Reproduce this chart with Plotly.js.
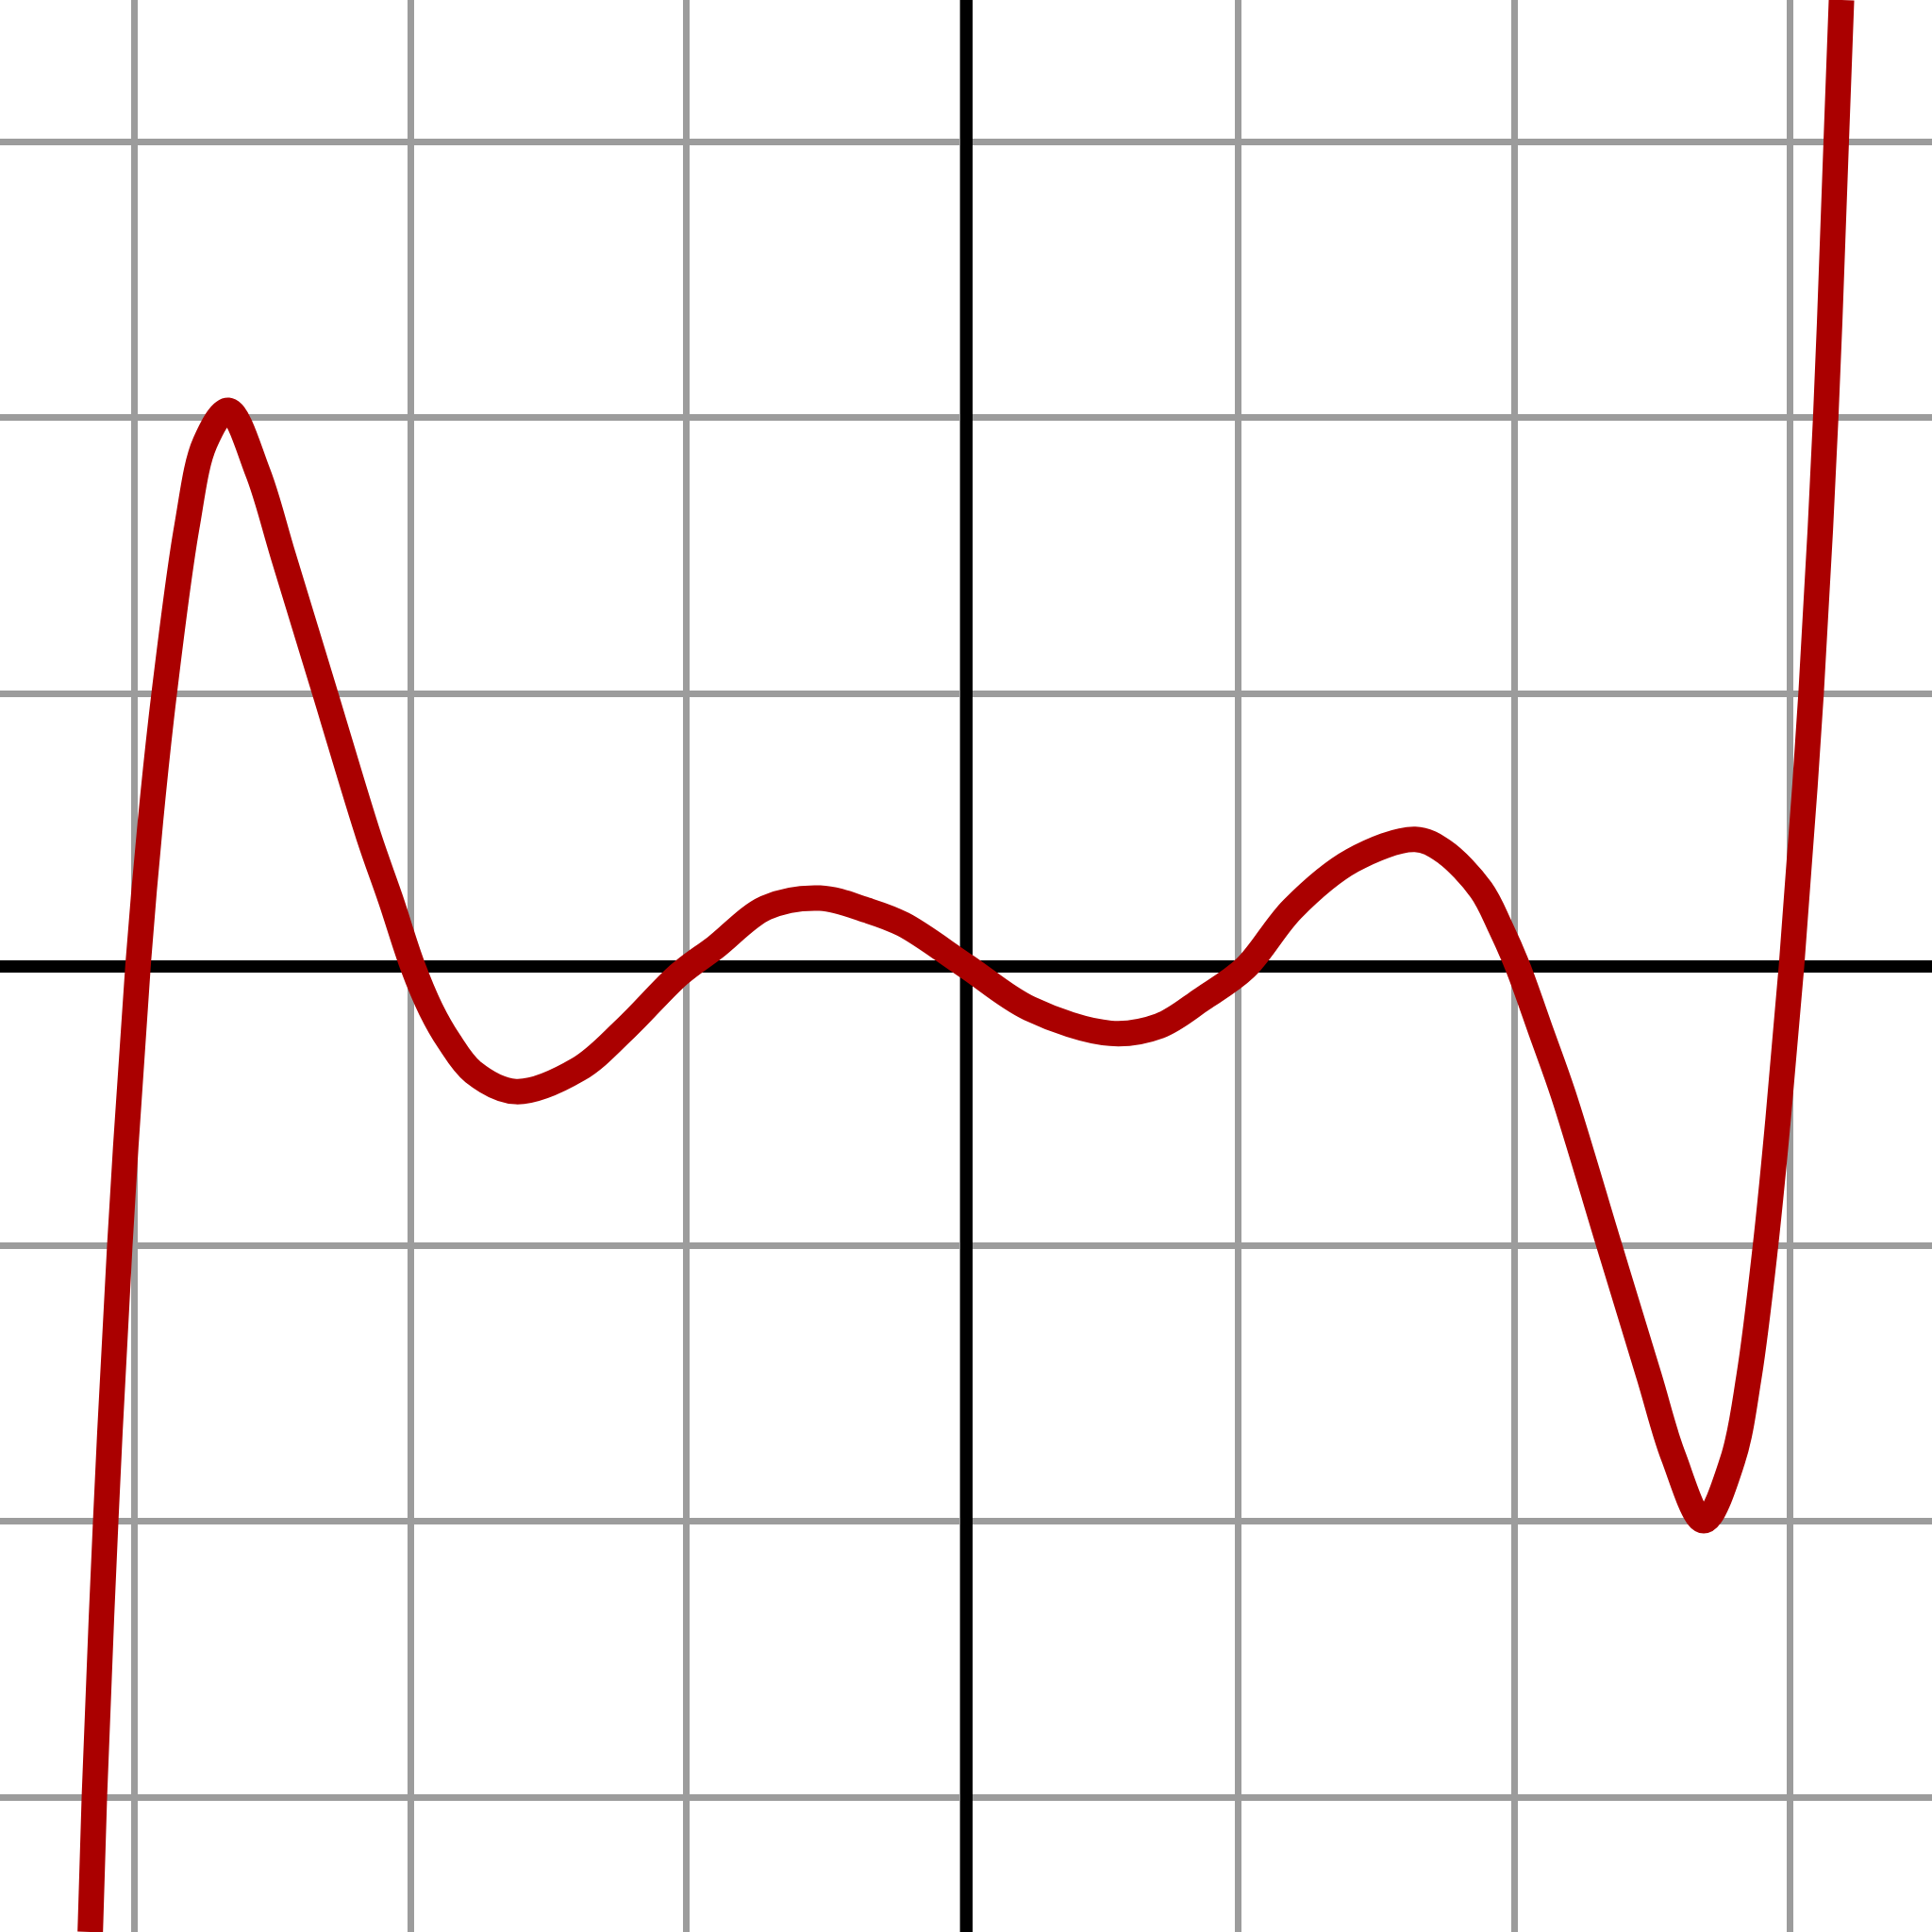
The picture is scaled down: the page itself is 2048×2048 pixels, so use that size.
<!DOCTYPE html>
<html>
<head>
<meta charset="utf-8">
<script src="https://cdn.plot.ly/plotly-3.0.1.min.js"></script>
<style>
  html, body { margin: 0; padding: 0; background: #ffffff; }
  #chart { width: 2048px; height: 2048px; }
</style>
</head>
<body>
<div id="chart"></div>
<script>
// Points (chart units, one grid square = 1)
const curveX = [
  -3.173, -3.158, -3.117, -3.066, -3.000, -2.955, -2.905, -2.823, -2.757, -2.673,
  -2.566, -2.474, -2.322, -2.164, -2.085, -2.005, -1.939, -1.874, -1.785, -1.631,
  -1.404, -1.233, -1.039, -0.908, -0.725, -0.529, -0.359, -0.228, 0.000, 0.230,
  0.524, 0.701, 0.857, 1.012, 1.183, 1.399, 1.627, 1.729, 1.866, 1.937,
  1.998, 2.085, 2.164, 2.330, 2.475, 2.563, 2.673, 2.777, 2.837, 2.897,
  2.941, 2.991, 3.062, 3.115, 3.153, 3.172
];
const curveY = [
  -3.500, -3.009, -2.011, -1.013, 0.000, 0.523, 0.988, 1.591, 1.896, 2.013,
  1.789, 1.487, 0.988, 0.469, 0.242, 0.000, -0.157, -0.271, -0.385, -0.455,
  -0.374, -0.226, -0.030, 0.068, 0.211, 0.246, 0.202, 0.151, 0.000, -0.154,
  -0.244, -0.217, -0.119, -0.007, 0.207, 0.382, 0.459, 0.417, 0.276, 0.139,
  0.000, -0.242, -0.465, -1.011, -1.487, -1.777, -2.010, -1.792, -1.487, -1.011,
  -0.571, 0.000, 0.989, 1.989, 2.987, 3.500
];

const curveColor = '#aa0000';
const gridColor = '#9c9c9c';
const axisColor = '#000000';

const trace = {
  x: curveX,
  y: curveY,
  type: 'scatter',
  mode: 'lines',
  line: { color: curveColor, width: 27, shape: 'spline', smoothing: 1, simplify: false },
  hoverinfo: 'skip',
  showlegend: false
};

const axisCommon = {
  range: [-3.5, 3.5],
  tick0: -0.013,
  dtick: 1,
  showgrid: true,
  gridcolor: gridColor,
  gridwidth: 7,
  zeroline: true,
  zerolinecolor: axisColor,
  zerolinewidth: 13,
  showticklabels: false,
  ticks: '',
  showline: false,
  fixedrange: true
};

const layout = {
  width: 2048,
  height: 2048,
  margin: { l: 0, r: 0, t: 0, b: 0, pad: 0 },
  paper_bgcolor: '#ffffff',
  plot_bgcolor: '#ffffff',
  xaxis: Object.assign({}, axisCommon),
  yaxis: Object.assign({}, axisCommon),
  showlegend: false
};

Plotly.newPlot('chart', [trace], layout, { displayModeBar: false, staticPlot: true });
</script>
</body>
</html>
